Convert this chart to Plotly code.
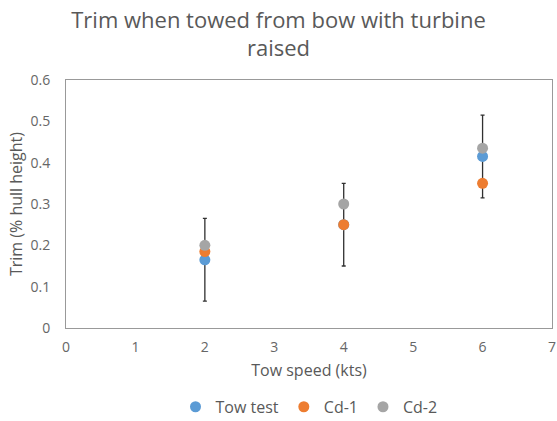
import plotly.graph_objects as go

speed = [2, 4, 6]
tow_test = [0.165, 0.25, 0.415]
cd1 = [0.185, 0.25, 0.35]
cd2 = [0.2, 0.3, 0.435]
tow_err = [0.1, 0.1, 0.1]

x_ticks = [0, 1, 2, 3, 4, 5, 6, 7]
y_ticks = [0, 0.1, 0.2, 0.3, 0.4, 0.5, 0.6]

font_family = "Open Sans"
grey_text = "#595959"

fig = go.Figure()
# error bars of the tow test, drawn beneath the markers
fig.add_trace(go.Scatter(x=speed, y=tow_test, mode="markers", showlegend=False,
                         marker=dict(color="rgba(0,0,0,0)", size=1),
                         error_y=dict(type="data", array=tow_err, visible=True,
                                      color="#303030", thickness=1.3, width=2),
                         hoverinfo="skip"))
fig.add_trace(go.Scatter(x=speed, y=tow_test, mode="markers", name="Tow test",
                         marker=dict(color="#5B9BD5", size=11)))
fig.add_trace(go.Scatter(x=speed, y=cd1, mode="markers", name="Cd-1",
                         marker=dict(color="#ED7D31", size=11)))
fig.add_trace(go.Scatter(x=speed, y=cd2, mode="markers", name="Cd-2",
                         marker=dict(color="#A5A5A5", size=11)))

fig.update_layout(
    width=557, height=421,
    margin=dict(l=66, r=5, t=80, b=93, autoexpand=False),
    paper_bgcolor="white", plot_bgcolor="white",
    font=dict(family=font_family, color=grey_text, size=14),
    title=dict(text="Trim when towed from bow with turbine<br>raised",
               x=0.5, xanchor="center", y=0.934, yanchor="top",
               font=dict(size=22, color=grey_text, family=font_family)),
    legend=dict(orientation="h", x=0.5, xanchor="center", y=-0.318, yanchor="middle",
                font=dict(size=16, color=grey_text), itemwidth=30,
                tracegroupgap=0),
    showlegend=True,
)
fig.update_xaxes(range=[0, 7], tickvals=x_ticks, ticktext=[str(v) for v in x_ticks],
                 showgrid=False, zeroline=False, showline=True, mirror=True,
                 linecolor="#999999", linewidth=1, ticks="",
                 ticklabelstandoff=6, automargin=False, ticklabeloverflow="allow",
                 tickfont=dict(size=14, color="#666666"),
                 title=dict(text="Tow speed (kts)", font=dict(size=16, color=grey_text),
                            standoff=10))
fig.update_yaxes(range=[0, 0.6], tickvals=y_ticks,
                 ticktext=["0" if v == 0 else str(v) for v in y_ticks],
                 showgrid=False, zeroline=False, showline=True, mirror=True,
                 linecolor="#999999", linewidth=1, ticks="",
                 ticklabelstandoff=12, automargin=False, ticklabeloverflow="allow",
                 tickfont=dict(size=14, color="#666666"),
                 title=dict(text="Trim (% hull height)", font=dict(size=16, color=grey_text),
                            standoff=3))

fig.write_html("out.html")
